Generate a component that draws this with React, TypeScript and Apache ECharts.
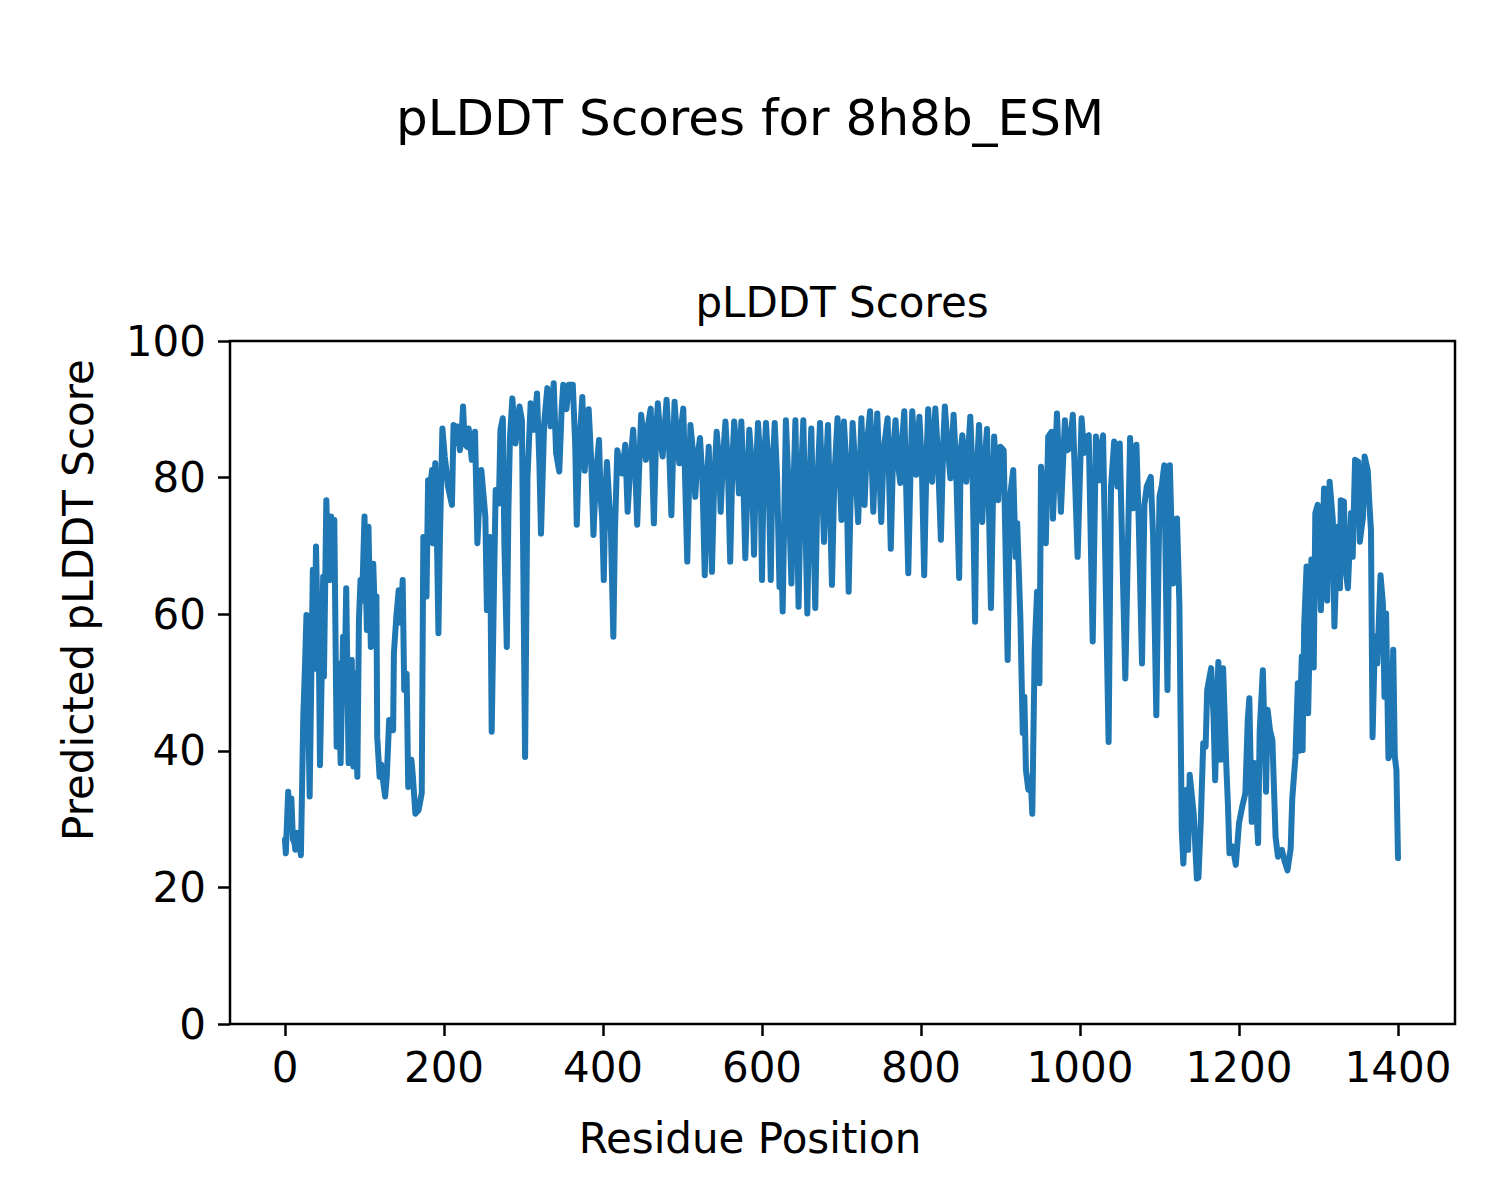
import React, { useEffect, useRef } from "react";
import * as echarts from "echarts";

const residues = [
  0, 1, 4, 6, 8, 10, 12, 13, 15, 17, 20, 23, 25, 27, 29, 31, 33, 35, 37, 39, 41, 42, 44, 46, 48, 49, 52, 54, 56, 58, 60, 62, 65, 67, 70, 73, 75, 77, 80, 82, 84, 86, 88, 91, 93, 95, 97, 100, 103, 105, 108, 111, 113, 115, 116, 119,
  121, 124, 126, 128, 131, 134, 136, 137, 140, 143, 146, 148, 150, 153, 155, 157, 159, 161, 164, 168, 172, 174, 177, 178, 180, 182, 185, 186, 189, 191, 193, 195, 198, 201, 203, 205, 210, 212, 214, 217, 220, 222, 224, 226, 229, 231, 235, 237, 239, 242, 245, 247,
  250, 252, 254, 256, 258, 260, 263, 265, 269, 271, 274, 276, 279, 281, 283, 286, 290, 295, 298, 302, 305, 309, 313, 317, 320, 322, 326, 330, 334, 338, 341, 345, 348, 350, 354, 357, 362, 365, 367, 370, 374, 377,
  380, 382, 385, 388, 391, 395, 397, 399, 401, 403, 405, 408, 410, 413, 415, 418, 421, 424, 428, 431, 435, 438, 441, 443, 446, 448, 451, 454, 457, 460, 464, 467, 469, 472, 475, 480, 483, 486, 490, 493, 496, 498, 501, 506,
  510, 513, 516, 519, 522, 525, 528, 531, 533, 537, 540, 543, 546, 548, 551, 554, 557, 560, 563, 565, 568, 571, 574, 576, 579, 582, 584, 587, 590, 592, 595, 598, 600, 602, 605, 608, 611, 613, 616, 619, 622, 624, 626, 630,
  633, 637, 640, 642, 646, 649, 652, 657, 660, 662, 667, 670, 673, 678, 680, 683, 688, 691, 695, 700, 703, 706, 709, 712, 714, 717, 721, 725, 727, 729, 732, 736, 740, 742, 745, 750, 753, 758, 762,
  765, 768, 771, 774, 776, 779, 784, 787, 789, 794, 798, 801, 804, 807, 809, 814, 818, 821, 825, 828, 830, 834, 837, 841, 844, 848, 850, 852, 857, 862, 865, 868, 870, 873, 877, 880, 883, 885, 888, 892,
  895, 897, 900, 904, 909, 912, 916, 919, 921, 923, 925, 928, 930, 932, 935, 938, 940, 943, 946, 949, 951, 954, 957, 960, 964, 966, 971, 976, 981, 984, 987, 991, 997, 1002, 1005, 1008, 1011, 1016, 1020,
  1024, 1026, 1029, 1036, 1039, 1043, 1047, 1050, 1057, 1063, 1067, 1071, 1074, 1078, 1081, 1084, 1089, 1092, 1096, 1100, 1103, 1106, 1110, 1113, 1117, 1122, 1125, 1128, 1130, 1134, 1136, 1138, 1143, 1147,
  1149, 1152, 1155, 1158, 1160, 1165, 1168, 1170, 1174, 1177, 1180, 1184, 1186, 1188, 1192, 1196, 1200, 1204, 1208, 1211, 1213, 1216, 1219, 1224, 1226, 1230, 1234, 1236, 1239, 1242, 1246, 1249, 1254, 1257, 1261, 1265, 1267, 1271, 1274, 1276, 1278,
  1279, 1280, 1282, 1285, 1287, 1291, 1294, 1296, 1299, 1303, 1307, 1311, 1314, 1318, 1320, 1324, 1327, 1328, 1332, 1334, 1337, 1341, 1343, 1346, 1350, 1352, 1356, 1358, 1362, 1364, 1366, 1368, 1371, 1374, 1378, 1381, 1383, 1385, 1388, 1391, 1394, 1396, 1398, 1400,
];

const scores = [
  27, 25, 34, 30, 33, 27, 26.5, 25.5, 28, 27, 24.7, 45, 51.8, 59.9, 48, 33.3, 50, 66.5, 52, 69.9, 58, 62, 37.9, 50, 65.5, 50.9, 76.7, 68, 65, 74.3, 70, 73.8, 40.6, 52.8, 38.2, 56.7, 50, 63.8, 38.2, 50, 53.3, 37.7, 51.3, 36.2, 59.2, 65, 62, 74.3, 57.7, 72.8, 55.2, 67.4, 60, 62.6, 42, 36.2,
  38, 35, 33.3, 36.2, 44.5, 44, 43, 54.3, 59.6, 63.5, 58.7, 65, 48.9, 51.3, 34.7, 37, 38.7, 36, 30.8, 31.3, 33.8, 71.3, 68, 62.6, 79.6, 78, 81.1, 70.4, 82.1, 72, 57.2, 72, 87.2, 83, 81.1, 78.7, 76, 87.7, 85, 87.5, 84, 86, 90.4, 85, 84.5, 87.2, 82.6, 84, 86.7, 70.4, 78, 81.1,
  77, 74.3, 60.6, 70, 71.3, 42.8, 65, 78.2, 76.2, 87, 88.7, 70, 55.2, 75, 86, 91.6, 85, 90.4, 88.4, 39.1, 80, 90.9, 87, 92.3, 82, 71.8, 88, 93.1, 87.5, 93.8, 83.6, 80.9, 90, 93.6, 90, 93.6, 93.6, 85, 73.1, 84, 91.8, 81,
  86, 90, 83, 71.6, 80, 85.5, 77.2, 74, 65, 78, 82.3, 76, 72, 56.7, 72, 84, 82, 80.6, 84.8, 75, 83, 87, 80, 73.1, 83, 89.2, 86, 82.6, 88, 90.1, 73.3, 87, 90.9, 86, 83.1, 91.4, 85, 74.5, 91.1, 86, 82.1, 87, 90.1, 67.7,
  87.7, 84, 77.2, 83, 85.8, 80, 65.7, 80, 84.5, 66.2, 80, 86.7, 82, 75, 83, 88.2, 82, 67.7, 83, 88.2, 84, 77.7, 88.2, 82, 68.2, 80, 87, 82, 68.7, 80, 88, 82, 65, 80, 88, 82, 65, 80, 88, 80, 64, 72, 60.4, 88.4,
  80, 64.5, 80, 88.4, 61.1, 80, 88.4, 60.1, 80, 87.2, 60.9, 80, 88, 70.6, 80, 87.7, 64.3, 80, 88.7, 73.8, 88.2, 82, 63.3, 80, 88, 82, 73.5, 88.7, 82, 76, 85, 89.7, 75, 82, 89.4, 73.5, 84, 88.7, 69.6,
  84, 88.4, 82, 79.2, 85, 89.7, 66, 82, 89.7, 80.4, 88.9, 82, 65.7, 83, 90, 79.4, 90.1, 84, 70.9, 85, 90.4, 84, 79.9, 89.2, 82, 65.3, 84, 86.2, 79.4, 88.9, 80, 58.9, 80, 87.7, 73.5, 82, 87.1, 78, 60.9, 86,
  80, 76.7, 84.5, 84, 53.3, 77.2, 81.1, 68.4, 73.3, 66.5, 59.4, 42.6, 47.9, 37.2, 34.3, 36, 30.8, 54.8, 63.3, 49.9, 81.6, 75.7, 70.4, 86, 86.7, 74, 89.4, 75, 88.4, 84, 84.3, 89.2, 68.4, 88.7, 83.6, 86, 86.2, 56, 86,
  79.6, 84, 86.2, 41.3, 78.7, 85.3, 78.7, 85, 50.6, 85.8, 75.5, 84.8, 73.1, 52.8, 76, 78.7, 80.1, 71.3, 45.2, 77.2, 78.9, 81.8, 48.9, 81.8, 64.5, 74, 61.6, 28.4, 23.5, 34.3, 25.5, 36.5, 30.8, 21.3,
  21.4, 29.9, 41.1, 40.6, 48.9, 52.1, 45, 35.7, 53, 38.7, 52.1, 37.9, 32.3, 25, 26, 23.3, 29.4, 31.8, 33.8, 44.5, 47.7, 29.6, 38.2, 26.5, 42.8, 51.8, 34, 46, 43, 41.6, 27.4, 24.5, 25.5, 24, 22.5, 25.7, 33, 39.1, 49.9, 40, 50,
  53.8, 40.1, 58.4, 67, 45.5, 68, 52.2, 74.8, 76, 60.6, 78.4, 62, 79.4, 73.8, 58.2, 72.8, 63.8, 76.7, 76.5, 66.5, 63.8, 74.8, 68.4, 82.6, 82.3, 70.6, 74.3, 83.1, 81, 76.2, 72.3, 42, 56.7, 52.8, 65.7, 61.6, 47.9, 60.1, 38.9, 40, 54.8, 39.1, 37.2, 24.3,
];

const xTickValues = [0, 200, 400, 600, 800, 1000, 1200, 1400];
const yTickValues = [0, 20, 40, 60, 80, 100];

const FONT = "DejaVu Sans";

export default function App() {
  const ref = useRef<HTMLDivElement>(null);

  useEffect(() => {
    if (!ref.current) return;
    const chart = echarts.init(ref.current, undefined, { renderer: "svg" });
    const data = residues.map((r, i) => [r, scores[i]]);
    chart.setOption({
      animation: false,
      backgroundColor: "#ffffff",
      grid: { left: 285, right: 102, top: 341, bottom: 176 },
      xAxis: {
        type: "value",
        min: xTickValues[0],
        max: xTickValues[xTickValues.length - 1],
        interval: 200,
        axisLine: { show: false },
        axisTick: { show: true, length: 12, lineStyle: { color: "#000", width: 2.5 } },
        axisLabel: {
          color: "#000",
          fontSize: 42,
          fontFamily: FONT,
          margin: 22,
          formatter: (v: number) => String(v),
        },
        splitLine: { show: false },
      },
      yAxis: {
        type: "value",
        min: yTickValues[0],
        max: yTickValues[yTickValues.length - 1],
        interval: 20,
        offset: 55,
        axisLine: { show: false, onZero: false },
        axisTick: { show: true, length: 12, lineStyle: { color: "#000", width: 2.5 } },
        axisLabel: {
          color: "#000",
          fontSize: 42,
          fontFamily: FONT,
          margin: 24,
          formatter: (v: number) => String(v),
        },
        splitLine: { show: false },
      },
      series: [
        {
          type: "line",
          data,
          showSymbol: false,
          symbol: "none",
          lineStyle: { color: "#1f77b4", width: 6, cap: "round", join: "round" },
        },
      ],
      graphic: [
        {
          type: "rect",
          shape: { x: 230, y: 341, width: 1225, height: 683 },
          style: { fill: "none", stroke: "#000", lineWidth: 2.5 },
          z: 10,
          silent: true,
        },
        {
          type: "text",
          x: 750,
          y: 118,
          style: {
            text: "pLDDT Scores for 8h8b_ESM",
            fontSize: 50,
            fontFamily: FONT,
            fill: "#000",
            align: "center",
            verticalAlign: "middle",
          },
        },
        {
          type: "text",
          x: 842,
          y: 302,
          style: {
            text: "pLDDT Scores",
            fontSize: 42,
            fontFamily: FONT,
            fill: "#000",
            align: "center",
            verticalAlign: "middle",
          },
        },
        {
          type: "text",
          x: 750,
          y: 1138,
          style: {
            text: "Residue Position",
            fontSize: 42,
            fontFamily: FONT,
            fill: "#000",
            align: "center",
            verticalAlign: "middle",
          },
        },
        {
          type: "text",
          x: 78,
          y: 600,
          rotation: Math.PI / 2,
          style: {
            text: "Predicted pLDDT Score",
            fontSize: 42,
            fontFamily: FONT,
            fill: "#000",
            align: "center",
            verticalAlign: "middle",
          },
        },
      ],
    });
    return () => chart.dispose();
  }, []);

  return (
    <div
      ref={ref}
      style={{ position: "absolute", left: 0, top: 0, width: 1500, height: 1200, background: "#fff" }}
    />
  );
}
